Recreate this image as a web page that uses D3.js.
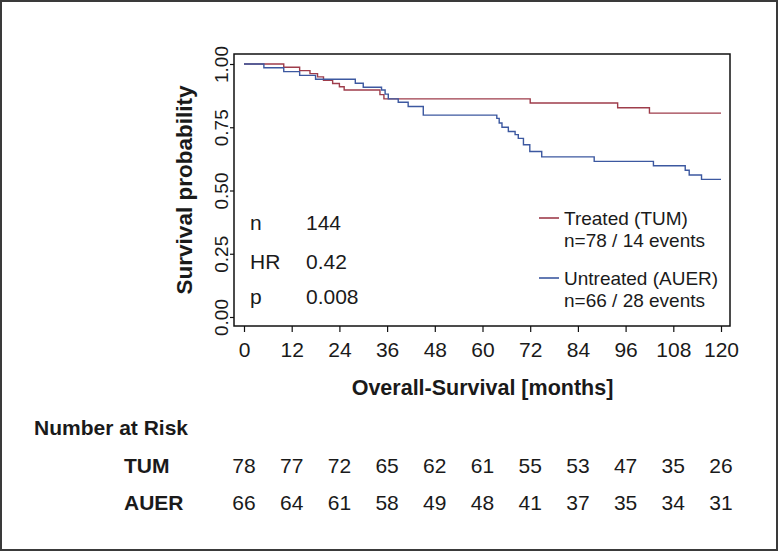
<!DOCTYPE html>
<html>
<head>
<meta charset="utf-8">
<script src="https://cdn.jsdelivr.net/npm/d3@7"></script>
<style>
  html, body { margin: 0; padding: 0; background: #fff; }
  svg { display: block; font-family: "Liberation Sans", Arial, sans-serif; }
</style>
</head>
<body>
<svg id="chart" width="779" height="552"></svg>
<script>
// ---- data ----
const xTicks = [0, 12, 24, 36, 48, 60, 72, 84, 96, 108, 120];
const yTicks = [0, 0.25, 0.5, 0.75, 1];

const timesTUM = [0, 10, 14, 16.6, 18.5, 20, 22.3, 24, 25.2, 34.2, 35.2, 72, 94, 102, 120];
const survTUM  = [1, 0.987, 0.974, 0.962, 0.949, 0.936, 0.923, 0.910, 0.897, 0.879, 0.862, 0.846, 0.827, 0.806, 0.806];

const timesAUER = [0, 5, 10, 14, 18, 28, 30, 34.6, 35.5, 36.3, 38.8, 41.3, 45.1,
                   63.6, 64.2, 64.9, 66.5, 68.2, 69, 70.3, 71.9, 74.9, 88.1, 103, 111, 112, 115.1, 120];
const survAUER  = [1, 0.985, 0.970, 0.955, 0.940, 0.924, 0.908, 0.897, 0.881, 0.862, 0.849, 0.832, 0.798,
                   0.785, 0.767, 0.750, 0.733, 0.721, 0.706, 0.681, 0.654, 0.633, 0.615, 0.598, 0.580, 0.561, 0.544, 0.544];

const riskGroups = ["TUM", "AUER"];
const riskTUM  = [78, 77, 72, 65, 62, 61, 55, 53, 47, 35, 26];
const riskAUER = [66, 64, 61, 58, 49, 48, 41, 37, 35, 34, 31];

const statLabels = ["n", "HR", "p"];
const statValues = ["144", "0.42", "0.008"];

const legendTitles = ["Treated (TUM)", "Untreated (AUER)"];
const legendSubs   = ["n=78 / 14 events", "n=66 / 28 events"];

// ---- styles ----
const colTUM = "#9e3d4b";
const colAUER = "#3c58a0";
const textCol = "#1a1a1a";

const svg = d3.select("#chart");

// outer frame
svg.append("rect").attr("x", 1).attr("y", 1).attr("width", 776).attr("height", 549)
  .attr("fill", "#fff").attr("stroke", "#3a3a3a").attr("stroke-width", 2);

const x = d3.scaleLinear().domain([0, 120]).range([244, 721]);
const y = d3.scaleLinear().domain([0, 1]).range([317, 64]);

// plot box
const box = {l: 234, r: 730, t: 54, b: 326};
svg.append("rect").attr("x", box.l).attr("y", box.t)
  .attr("width", box.r - box.l).attr("height", box.b - box.t)
  .attr("fill", "none").attr("stroke", "#111").attr("stroke-width", 1.5);

// y axis
const gy = svg.append("g").attr("transform", `translate(${box.l},0)`)
  .call(d3.axisLeft(y).tickValues(yTicks).tickFormat(d3.format(".2f")).tickSize(4).tickSizeOuter(0));
gy.select(".domain").remove();
gy.selectAll(".tick line").attr("stroke", "#111").attr("stroke-width", 1.2);
gy.selectAll(".tick text")
  .attr("x", null).attr("dy", null)
  .attr("text-anchor", "middle")
  .attr("transform", "translate(-6,0) rotate(-90)")
  .attr("fill", textCol)
  .style("font-size", "19px");

// x axis
const gx = svg.append("g").attr("transform", `translate(0,${box.b})`)
  .call(d3.axisBottom(x).tickValues(xTicks).tickFormat(d3.format("d")).tickSize(6).tickSizeOuter(0));
gx.select(".domain").remove();
gx.selectAll(".tick line").attr("stroke", "#111").attr("stroke-width", 1.2);
gx.selectAll(".tick text")
  .attr("y", 31).attr("dy", null)
  .attr("fill", textCol)
  .style("font-size", "21px");

// axis titles
svg.append("text").attr("x", (x(0) + x(120)) / 2).attr("y", 395)
  .attr("text-anchor", "middle").attr("font-weight", "bold")
  .style("font-size", "21.5px").attr("fill", textCol)
  .text("Overall-Survival [months]");
svg.append("text").attr("transform", `translate(192,${(box.t + box.b) / 2}) rotate(-90)`)
  .attr("text-anchor", "middle").attr("font-weight", "bold")
  .style("font-size", "22.5px").attr("fill", textCol)
  .text("Survival probability");

// curves
const line = d3.line().x(d => x(d[0])).y(d => y(d[1])).curve(d3.curveStepAfter);
const series = [
  {t: timesTUM, s: survTUM, c: colTUM},
  {t: timesAUER, s: survAUER, c: colAUER}
];
series.forEach(se => {
  svg.append("path").datum(se.t.map((t, i) => [t, se.s[i]]))
    .attr("d", line).attr("fill", "none")
    .attr("stroke", se.c).attr("stroke-width", 1.4);
});

// stats text
const statY = [230, 269, 304];
statLabels.forEach((lab, i) => {
  svg.append("text").attr("x", 250).attr("y", statY[i]).style("font-size", "21px")
    .attr("fill", textCol).text(lab);
  svg.append("text").attr("x", 306).attr("y", statY[i]).style("font-size", "21px")
    .attr("fill", textCol).text(statValues[i]);
});

// legend
const legY = [218, 278];
const legCols = [colTUM, colAUER];
legendTitles.forEach((t, i) => {
  svg.append("line").attr("x1", 539).attr("x2", 559).attr("y1", legY[i]).attr("y2", legY[i])
    .attr("stroke", legCols[i]).attr("stroke-width", 1.6);
  svg.append("text").attr("x", 564).attr("y", legY[i] + 7).style("font-size", "19px")
    .attr("fill", textCol).text(t);
  svg.append("text").attr("x", 564).attr("y", legY[i] + 29).style("font-size", "19px")
    .attr("fill", textCol).text(legendSubs[i]);
});

// number at risk
svg.append("text").attr("x", 34).attr("y", 435).attr("font-weight", "bold")
  .style("font-size", "21px").attr("fill", textCol).text("Number at Risk");
const riskRows = [riskTUM, riskAUER];
const rowY = [473, 510];
riskGroups.forEach((g, i) => {
  svg.append("text").attr("x", 124).attr("y", rowY[i]).attr("font-weight", "bold")
    .style("font-size", "21px").attr("fill", textCol).text(g);
  svg.selectAll(null).data(riskRows[i]).enter().append("text")
    .attr("x", (d, j) => x(xTicks[j])).attr("y", rowY[i])
    .attr("text-anchor", "middle").style("font-size", "21px").attr("fill", textCol)
    .text(d => d);
});
</script>
</body>
</html>
